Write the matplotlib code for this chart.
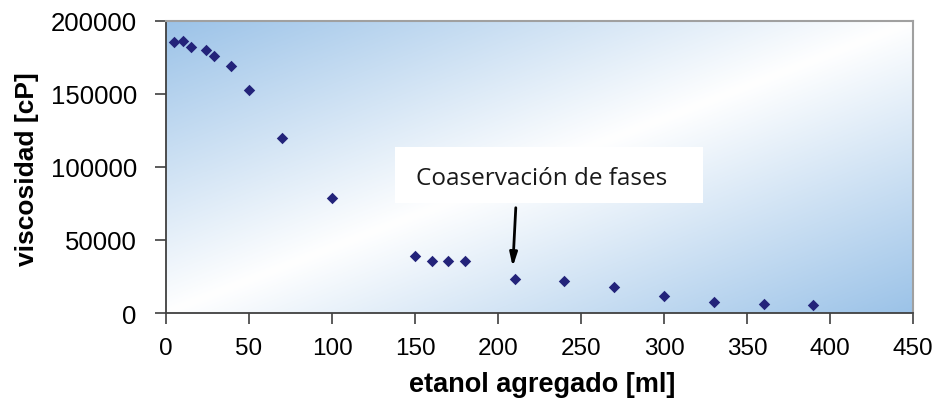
import matplotlib
matplotlib.use("Agg")
import matplotlib.pyplot as plt
import numpy as np
from matplotlib.patches import Rectangle
from matplotlib.colors import LinearSegmentedColormap

etanol = [5, 10, 15, 24, 29, 39, 50, 70, 100, 150, 160, 170, 180, 210, 240, 270, 300, 330, 360, 390]
viscosidad = [185400, 186500, 182400, 180000, 176000, 169400, 152500, 119900, 78800,
              39000, 35400, 35400, 35400, 23300, 21700, 18000, 11400, 7500, 6400, 5300]
xticks = [0, 50, 100, 150, 200, 250, 300, 350, 400, 450]
yticks = [0, 50000, 100000, 150000, 200000]
annot_text = "Coaservación de fases"

fig = plt.figure(figsize=(9.4, 4.14), dpi=100)
ax = fig.add_axes([166/940, 1-314/414, (913-166)/940, (314-22)/414])
ax.set_xlim(0, 450)
ax.set_ylim(0, 200000)

# gradient background
blue = "#9cc3e8"
cmap = LinearSegmentedColormap.from_list("bg", [blue, "#ffffff", blue])
nx, ny = 300, 150
xx, yy = np.meshgrid(np.linspace(0, 1, nx), np.linspace(0, 1, ny))
t = (xx + yy) / 2.0
ax.imshow(t, cmap=cmap, extent=[0, 1, 0, 1], transform=ax.transAxes,
          aspect="auto", origin="upper", zorder=0, interpolation="bicubic")

ax.scatter(etanol, viscosidad, marker="D", s=34, color="#23237a", zorder=3, linewidths=0)

# annotation box
ax.add_patch(Rectangle((138, 75300), 185.5, 38400, facecolor="white", edgecolor="none", zorder=2))
ax.text(226.5, 92800, annot_text, ha="center", va="center", fontsize=17.5,
        family="Open Sans", color="#1a1a1a", zorder=4)
ax.annotate("", xy=(208.8, 29700), xytext=(210.8, 74000),
            arrowprops=dict(arrowstyle="-|>,head_length=0.8,head_width=0.22", color="black", lw=2),
            zorder=4)

ax.set_xticks(xticks)
ax.set_yticks(yticks)
ax.set_xticklabels([str(v) for v in xticks], family="Liberation Sans", fontsize=17.5)
ax.set_yticklabels([str(v) for v in yticks], family="Liberation Sans", fontsize=18.5)
ax.tick_params(axis="x", direction="out", length=8, width=1.2, color="#404040", pad=9)
ax.tick_params(axis="y", direction="out", length=8, width=1.2, color="#404040", pad=13)

for s in ["left", "bottom"]:
    ax.spines[s].set_color("#404040")
    ax.spines[s].set_linewidth(1.3)
for s in ["top", "right"]:
    ax.spines[s].set_color("#a0a0a0")
    ax.spines[s].set_linewidth(1.5)

fig.text(542/940, 1-385/414, "etanol agregado [ml]", ha="center", va="center",
         fontsize=19.5, fontweight="bold", family="Liberation Sans")
fig.text(27/940, 1-169/414, "viscosidad [cP]", ha="center", va="center", rotation=90,
         fontsize=19, fontweight="bold", family="Liberation Sans")

fig.savefig("out.png", dpi=100)
